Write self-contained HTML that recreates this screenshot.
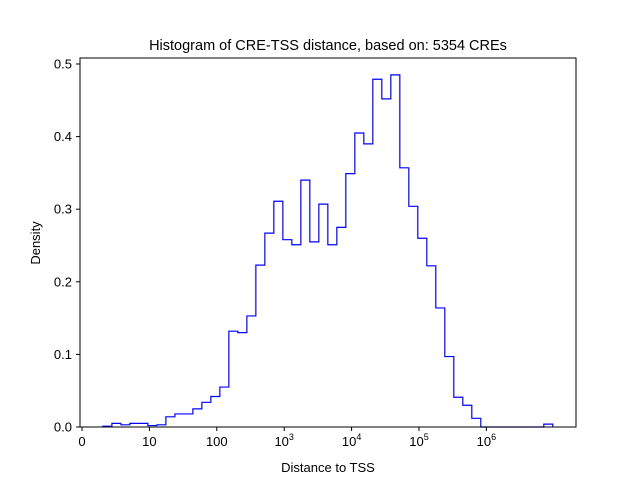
<!DOCTYPE html>
<html><head><meta charset="utf-8"><style>
body{margin:0;background:#fff}
svg{font-family:"Liberation Sans","DejaVu Sans",sans-serif}
</style></head><body>
<svg id="chart" width="640" height="480" xmlns="http://www.w3.org/2000/svg">
<rect width="640" height="480" fill="#fff"/>
<text x="328" y="50" font-size="14.5" text-anchor="middle">Histogram of CRE-TSS distance, based on: 5354 CREs</text>
<g id="ticks"></g>
<path id="hist" fill="none" stroke="#0000ff" stroke-width="1.2"/>
<rect x="80" y="58" width="496" height="369" fill="none" stroke="#000" stroke-width="1"/>
<text x="328" y="472" font-size="13" text-anchor="middle">Distance to TSS</text>
<text x="0" y="0" font-size="13" text-anchor="middle" transform="translate(40,243) rotate(-90)">Density</text>
</svg>
<script>
const binStart = 0.31;
const binWidth = 0.1335;
const densities = [0.001,0.005,0.003,0.005,0.005,0.002,0.003,0.014,0.018,0.018,0.025,0.034,0.042,0.055,0.132,0.130,0.153,0.223,0.267,0.311,0.258,0.251,0.340,0.255,0.307,0.251,0.275,0.349,0.405,0.390,0.479,0.452,0.485,0.357,0.304,0.260,0.222,0.164,0.097,0.041,0.030,0.012,0,0,0,0,0,0,0,0.004];
const xTickVals = [0,1,2,3,4,5,6];
const xTickLabels = ["0","10","100","10|3","10|4","10|5","10|6"];
const yTickVals = [0,0.1,0.2,0.3,0.4,0.5];
const yTickLabels = ["0.0","0.1","0.2","0.3","0.4","0.5"];
const xs = u => 82 + 67.4*u;
const ys = v => 427 - 726*v;
const NS="http://www.w3.org/2000/svg";
let d = "M"+xs(binStart)+","+ys(0);
densities.forEach((v,i)=>{
  const x0=xs(binStart+i*binWidth), x1=xs(binStart+(i+1)*binWidth);
  d += " L"+x0+","+ys(v)+" L"+x1+","+ys(v);
});
d += " L"+xs(binStart+densities.length*binWidth)+","+ys(0);
document.getElementById('hist').setAttribute('d', d);
const g=document.getElementById('ticks');
xTickVals.forEach((u,i)=>{
  const l=document.createElementNS(NS,'line');
  
  
  l.setAttribute('x1',xs(u));l.setAttribute('x2',xs(u));l.setAttribute('y1',427);l.setAttribute('y2',431);l.setAttribute('stroke','#000');
  g.appendChild(l);
  const t=document.createElementNS(NS,'text');
  
  
  t.setAttribute('x',xs(u));t.setAttribute('y',446);t.setAttribute('font-size','13');t.setAttribute('text-anchor','middle');
  const p=xTickLabels[i].split('|');
  if(p.length>1){
    t.innerHTML=p[0]+'<tspan font-size="9" dy="-6">'+p[1]+'</tspan>';
  } else t.textContent=p[0];
  g.appendChild(t);
});
yTickVals.forEach((v,i)=>{
  const l=document.createElementNS(NS,'line');
  
  
  l.setAttribute('x1',76);l.setAttribute('x2',80);l.setAttribute('y1',ys(v));l.setAttribute('y2',ys(v));l.setAttribute('stroke','#000');
  g.appendChild(l);
  const t=document.createElementNS(NS,'text');
  
  
  t.setAttribute('x',72);t.setAttribute('y',ys(v)+4.5);t.setAttribute('font-size','13');t.setAttribute('text-anchor','end');
  t.textContent=yTickLabels[i];
  g.appendChild(t);
});
</script>
</body></html>
